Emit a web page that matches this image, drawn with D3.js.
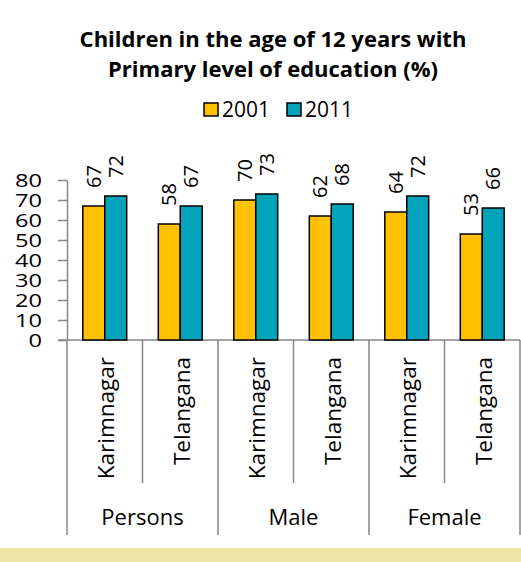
<!DOCTYPE html>
<html>
<head>
<meta charset="utf-8">
<script src="https://cdn.jsdelivr.net/npm/d3@7"></script>
<style>
  body { margin: 0; background: #fff; }
  svg { display: block; font-family: 'Open Sans', sans-serif; }
</style>
</head>
<body>
<div id="chart"></div>
<script>
// data
const groups = ['Persons', 'Male', 'Female'];
const places = ['Karimnagar', 'Telangana'];
const years = ['2001', '2011'];
const values2001 = [67, 58, 70, 62, 64, 53];
const values2011 = [72, 67, 73, 68, 72, 66];
const yTicks = [0, 10, 20, 30, 40, 50, 60, 70, 80];
const colors = ['#FFC000', '#00A3B9'];

const width = 521;
const height = 562;
const margin = { t: 180, r: 1, b: 222, l: 67 };

const rows = [];
groups.forEach((g, gi) => {
  places.forEach((p, pi) => {
    const i = gi * places.length + pi;
    rows.push({ key: `${g}|${p}`, group: g, place: p, values: [values2001[i], values2011[i]] });
  });
});

const svg = d3
  .select('#chart')
  .append('svg')
  .attr('width', width)
  .attr('height', height);

svg.append('rect').attr('width', width).attr('height', height).attr('fill', '#fff');
// beige band at the bottom
svg.append('rect').attr('x', 0).attr('y', 548).attr('width', width).attr('height', 14).attr('fill', '#F1E5A9');

// title
const title = svg
  .append('text')
  .attr('text-anchor', 'middle')
  .attr('font-weight', 'bold')
  .attr('font-size', '22px')
  .attr('fill', '#000');
title.append('tspan').attr('x', 273).attr('y', 47).text('Children in the age of 12 years with');
title.append('tspan').attr('x', 273).attr('y', 77).text('Primary level of education (%)');

// legend
const legend = svg
  .selectAll('.legend')
  .data(years)
  .join('g')
  .attr('transform', (d, i) => `translate(${204 + i * 83}, 103)`);
legend
  .append('rect')
  .attr('width', 14)
  .attr('height', 13)
  .attr('fill', (d, i) => colors[i])
  .attr('stroke', '#000')
  .attr('stroke-width', 1.5);
legend
  .append('text')
  .attr('x', 18)
  .attr('y', 13.5)
  .attr('font-size', '21px')
  .text((d) => d);

// scales
const x0 = d3
  .scaleBand()
  .domain(rows.map((d) => d.key))
  .range([margin.l, width - margin.r]);
const x1 = d3
  .scaleBand()
  .domain(years)
  .range([0, x0.bandwidth()])
  .paddingOuter(0.72);
const y = d3
  .scaleLinear()
  .domain([0, 80])
  .range([height - margin.b - 0, margin.t]);

// y axis
const yAxis = svg
  .append('g')
  .attr('transform', `translate(${margin.l}, 0)`)
  .call(d3.axisLeft(y).tickValues(yTicks).tickSize(9).tickSizeOuter(0).tickPadding(16));
yAxis.selectAll('line, path').attr('stroke', '#868686').attr('stroke-width', 1.5);
yAxis
  .selectAll('text')
  .attr('font-size', '18.5px')
  .attr('fill', '#000')
  .attr('font-family', 'Open Sans')
  .attr('dy', '0.36em')
  .attr('textLength', (d) => String(d).length * 13.5)
  .attr('lengthAdjust', 'spacingAndGlyphs');

// x axis line
svg
  .append('line')
  .attr('x1', margin.l - 9)
  .attr('x2', width - margin.r)
  .attr('y1', y(0))
  .attr('y2', y(0))
  .attr('stroke', '#868686')
  .attr('stroke-width', 1.5);

// dividers: short ones between places, long ones between groups
const edges = rows.map((d) => x0(d.key)).concat([x0.range()[1]]);
svg
  .selectAll('.divider')
  .data(edges)
  .join('line')
  .attr('x1', (d) => d)
  .attr('x2', (d) => d)
  .attr('y1', y(0))
  .attr('y2', (d, i) => (i % places.length === 0 ? 535 : 483))
  .attr('stroke', '#868686')
  .attr('stroke-width', 1.5);

// bars
const cat = svg
  .selectAll('.cat')
  .data(rows)
  .join('g')
  .attr('transform', (d) => `translate(${x0(d.key)}, 0)`);

cat
  .selectAll('rect')
  .data((d) => d.values)
  .join('rect')
  .attr('x', (d, i) => x1(years[i]))
  .attr('y', (d) => y(d))
  .attr('width', x1.bandwidth())
  .attr('height', (d) => y(0) - y(d))
  .attr('fill', (d, i) => colors[i])
  .attr('stroke', '#000')
  .attr('stroke-width', 1.5);

// value labels, rotated
cat
  .selectAll('.val')
  .data((d) => d.values)
  .join('text')
  .attr('transform', (d, i) => `translate(${x1(years[i]) + x1.bandwidth() / 2}, ${y(d) - 18}) rotate(-90)`)
  .attr('dy', '0.35em')
  .attr('font-size', '20px')
  .text((d) => d);

// place labels
cat
  .append('text')
  .attr('transform', `translate(${x0.bandwidth() / 2 + 1.5}, 357) rotate(-90)`)
  .attr('text-anchor', 'end')
  .attr('dy', '0.35em')
  .attr('font-size', '22.5px')
  .text((d) => d.place);

// group labels
svg
  .selectAll('.grp')
  .data(groups)
  .join('text')
  .attr('x', (d) => (x0(`${d}|${places[0]}`) + x0(`${d}|${places[places.length - 1]}`) + x0.bandwidth()) / 2)
  .attr('y', 525)
  .attr('text-anchor', 'middle')
  .attr('font-size', '22px')
  .text((d) => d);
</script>
</body>
</html>
